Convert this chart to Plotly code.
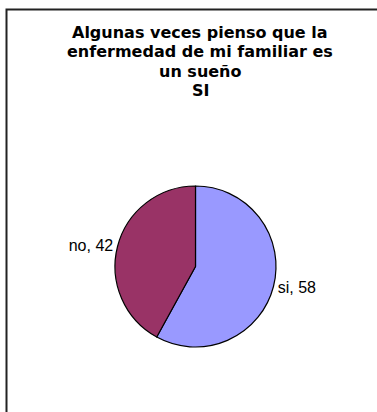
import plotly.graph_objects as go

# Survey answers
labels = ["si", "no"]
values = [58, 42]
colors = ["#9999FF", "#993366"]

title_lines = [
    "Algunas veces pienso que la",
    "enfermedad de mi familiar es",
    "un sueño",
    "SI",
]

W, H = 377, 412

fig = go.Figure(
    go.Pie(
        labels=labels,
        values=values,
        sort=False,
        direction="clockwise",
        rotation=0,
        marker=dict(colors=colors, line=dict(color="black", width=1.2)),
        texttemplate="%{label}, %{value}",
        textposition="outside",
        textfont=dict(family="Liberation Sans, Arial, sans-serif", size=16, color="black"),
        hoverinfo="label+value",
        showlegend=False,
        domain=dict(x=[114 / W, 277 / W], y=[1 - 347 / H, 1 - 186 / H]),
    )
)

# Title, one annotation per line
line_y = [33, 52, 71, 90]
for txt, yc in zip(title_lines, line_y):
    fig.add_annotation(
        text=f"<b>{txt}</b>",
        x=200 / W,
        y=1 - yc / H,
        xref="paper",
        yref="paper",
        xanchor="center",
        yanchor="middle",
        showarrow=False,
        font=dict(family="DejaVu Sans, sans-serif", size=16, color="black"),
    )

# Chart frame (extends past the right and bottom edges)
fig.add_shape(
    type="rect",
    xref="paper",
    yref="paper",
    x0=6.5 / W,
    y0=-0.1,
    x1=1.1,
    y1=1 - 9.5 / H,
    line=dict(color="#222222", width=2),
    fillcolor="rgba(0,0,0,0)",
)

fig.update_layout(
    width=W,
    height=H,
    margin=dict(l=0, r=0, t=0, b=0),
    paper_bgcolor="white",
    plot_bgcolor="white",
)

fig.write_html("out.html")
